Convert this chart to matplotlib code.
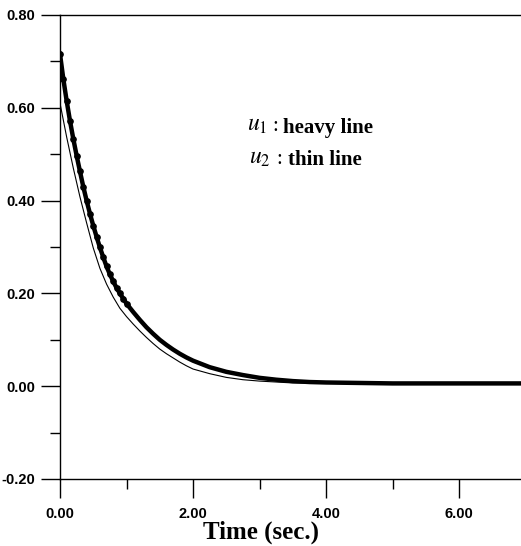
import matplotlib
matplotlib.use("Agg")
import matplotlib.pyplot as plt
from matplotlib.ticker import MultipleLocator, FormatStrFormatter

plt.rcParams["mathtext.fontset"] = "stix"

# u1 (heavy line, with dots)
t_heavy = [0.00, 0.05, 0.10, 0.15, 0.20, 0.25, 0.30, 0.35, 0.40, 0.45, 0.50,
           0.55, 0.60, 0.65, 0.70, 0.75, 0.80, 0.85, 0.90, 0.95, 1.00,
           1.10, 1.20, 1.30, 1.40, 1.50, 1.60, 1.70, 1.80, 1.90, 2.00,
           2.25, 2.50, 2.75, 3.00, 3.25, 3.50, 3.75, 4.00, 4.50, 5.00,
           5.50, 6.00, 6.50, 7.00]
u_heavy = [0.716, 0.662, 0.615, 0.572, 0.533, 0.497, 0.463, 0.430, 0.400, 0.372, 0.346,
           0.322, 0.299, 0.278, 0.258, 0.241, 0.226, 0.212, 0.200, 0.189, 0.178,
           0.160, 0.143, 0.127, 0.113, 0.100, 0.089, 0.079, 0.070, 0.062, 0.055,
           0.041, 0.031, 0.024, 0.018, 0.014, 0.011, 0.009, 0.008, 0.007, 0.006,
           0.006, 0.006, 0.006, 0.006]

# u2 (thin line)
t_thin = [0.00, 0.10, 0.20, 0.30, 0.40, 0.50, 0.60, 0.70, 0.80, 0.90, 1.00,
          1.10, 1.20, 1.30, 1.40, 1.50, 1.60, 1.70, 1.80, 1.90, 2.00,
          2.25, 2.50, 2.75, 3.00, 3.25, 3.50, 4.00, 5.00, 6.00, 7.00]
u_thin = [0.610, 0.537, 0.470, 0.408, 0.352, 0.298, 0.254, 0.220, 0.192, 0.168, 0.150,
          0.134, 0.119, 0.105, 0.092, 0.080, 0.070, 0.061, 0.052, 0.044, 0.037,
          0.027, 0.019, 0.014, 0.011, 0.009, 0.007, 0.006, 0.005, 0.005, 0.005]

x_ticks = [0, 2, 4, 6]
y_ticks = [-0.2, 0.0, 0.2, 0.4, 0.6, 0.8]

W, H = 521, 546
fig = plt.figure(figsize=(W / 100, H / 100), dpi=100)
ax = fig.add_axes([60 / W, 67 / H, 461 / W, 464 / H])

ax.plot(t_thin, u_thin, color="black", lw=0.8)
ax.plot(t_heavy, u_heavy, color="black", lw=3.2, marker="o", markersize=3.8,
        markevery=slice(0, 21))

ax.set_xlim(0, 6.93)
ax.set_ylim(-0.2, 0.8)

ax.spines["right"].set_visible(False)
for s in ["left", "bottom", "top"]:
    ax.spines[s].set_linewidth(1.0)

ax.xaxis.set_minor_locator(MultipleLocator(1))
ax.yaxis.set_minor_locator(MultipleLocator(0.1))
ax.set_xticks(x_ticks)
ax.set_yticks(y_ticks)
ax.xaxis.set_major_formatter(FormatStrFormatter("%.2f"))
ax.yaxis.set_major_formatter(FormatStrFormatter("%.2f"))

ax.tick_params(axis="both", which="major", direction="out", length=14, width=1.0,
               labelsize=10.5)
ax.tick_params(axis="y", which="major", pad=4)
ax.tick_params(axis="x", which="major", pad=6)
ax.tick_params(axis="both", which="minor", direction="out", length=7, width=1.0)
ax.tick_params(top=False, right=False, which="both")
for lab in ax.get_xticklabels() + ax.get_yticklabels():
    lab.set_fontfamily("Liberation Sans")
    lab.set_fontweight("bold")

serif = "Liberation Serif"
fig.text(261 / W, 1 - 539 / H, "Time (sec.)", fontfamily=serif, fontweight="bold",
         fontsize=18, ha="center", va="baseline")

fig.text(247 / W, 1 - 131 / H, r"$u_1$", fontsize=17, va="baseline")
fig.text(272 / W, 1 - 131 / H, ":", fontsize=15, fontfamily=serif, va="baseline")
fig.text(283 / W, 1 - 133 / H, "heavy line", fontsize=15, fontfamily=serif,
         fontweight="bold", va="baseline")
fig.text(249 / W, 1 - 164 / H, r"$u_2$", fontsize=17, va="baseline")
fig.text(276 / W, 1 - 164 / H, ":", fontsize=15, fontfamily=serif, va="baseline")
fig.text(288 / W, 1 - 165 / H, "thin line", fontsize=15, fontfamily=serif,
         fontweight="bold", va="baseline")

fig.savefig("out.png", dpi=100)
